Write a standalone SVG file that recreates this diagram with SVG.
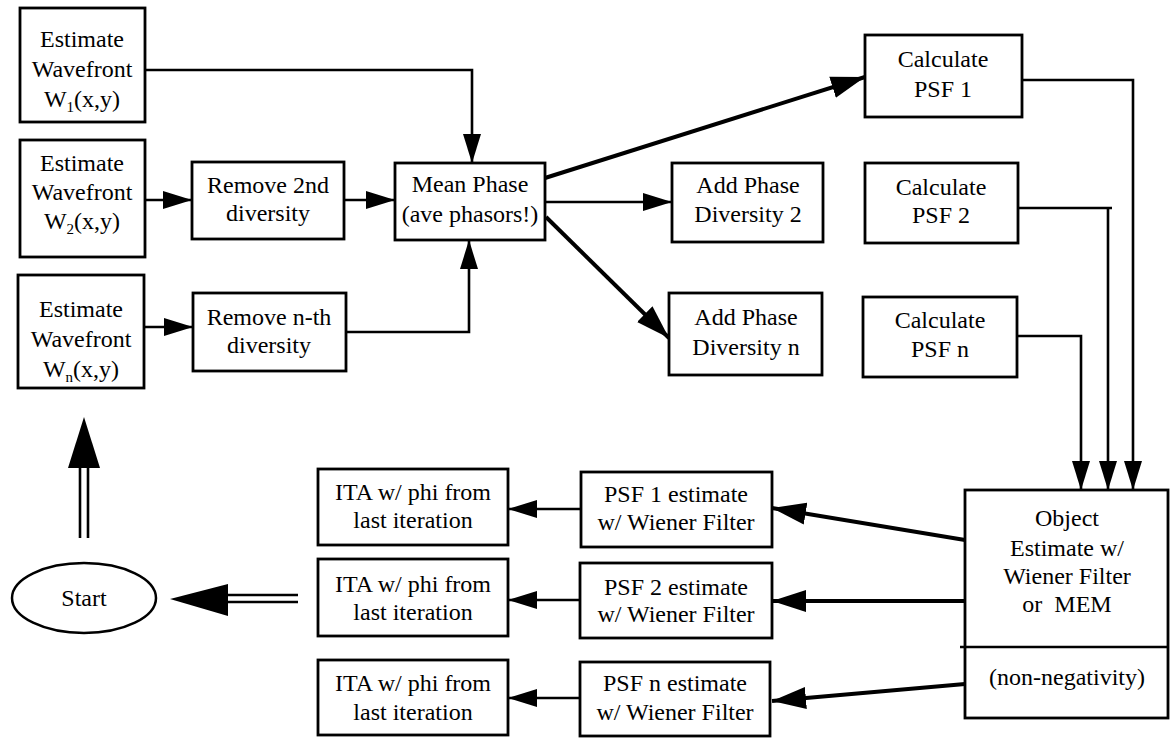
<svg xmlns="http://www.w3.org/2000/svg" width="1171" height="739" viewBox="0 0 1171 739">
  <style>
    .box { fill: #fff; stroke: #000; stroke-width: 2.8; }
    .lbl { font-family: "Liberation Serif", Tinos, "Nimbus Roman", "Nimbus Roman No9 L", "Times New Roman", Times, "Noto Serif", "DejaVu Serif", FreeSerif, serif; font-size: 24px; fill: #000; text-anchor: middle; }
    .sub { font-size: 15px; }
    .wire { fill: none; stroke: #000; stroke-width: 2.6; }
    .thick { fill: none; stroke: #000; stroke-width: 4; }
    .solid { fill: #000; stroke: none; }
  </style>
  <defs>
    <marker id="arr" markerUnits="userSpaceOnUse" markerWidth="29" markerHeight="20" refX="29" refY="10" orient="auto">
      <path d="M0,1 L29,10 L0,19 Z" fill="#000"/>
    </marker>
    <marker id="arrBig" markerUnits="userSpaceOnUse" markerWidth="34" markerHeight="24" refX="34" refY="12" orient="auto">
      <path d="M0,1 L34,12 L0,23 Z" fill="#000"/>
    </marker>
  </defs>
  <rect width="1171" height="739" fill="#fff"/>

  <!-- connectors -->
  <g id="connectors">
    <polyline class="wire" points="145,70 472,70 472,163" marker-end="url(#arr)"/>
    <line class="wire" x1="145" y1="200" x2="192" y2="200" marker-end="url(#arr)"/>
    <line class="wire" x1="344" y1="200" x2="395" y2="200" marker-end="url(#arr)"/>
    <line class="wire" x1="144" y1="327" x2="193" y2="327" marker-end="url(#arr)"/>
    <polyline class="wire" points="346,332 469,332 469,240" marker-end="url(#arr)"/>
    <line class="thick" x1="545" y1="178" x2="865" y2="77" marker-end="url(#arrBig)"/>
    <line class="wire" x1="545" y1="202" x2="672" y2="202" marker-end="url(#arr)"/>
    <line class="thick" x1="546" y1="217" x2="669" y2="338" marker-end="url(#arrBig)"/>
    <polyline class="wire" points="1022,80 1133,80 1133,490" marker-end="url(#arr)"/>
    <polyline class="wire" points="1018,208 1112,208"/>
    <polyline class="wire" points="1108,208 1108,490" marker-end="url(#arr)"/>
    <polyline class="wire" points="1017,336 1081,336 1081,490" marker-end="url(#arr)"/>
    <line class="thick" x1="965" y1="540" x2="772" y2="508" marker-end="url(#arrBig)"/>
    <line class="thick" x1="970" y1="601" x2="772" y2="601" marker-end="url(#arrBig)"/>
    <line class="thick" x1="965" y1="684" x2="772" y2="701" marker-end="url(#arrBig)"/>
    <line class="wire" x1="581" y1="509" x2="508" y2="509" marker-end="url(#arr)"/>
    <line class="wire" x1="580" y1="600" x2="508" y2="600" marker-end="url(#arr)"/>
    <line class="wire" x1="580" y1="698" x2="508" y2="698" marker-end="url(#arr)"/>
    <!-- hollow double arrow back to Start -->
    <line class="wire" x1="226" y1="595" x2="298" y2="595"/>
    <line class="wire" x1="226" y1="602" x2="298" y2="602"/>
    <path class="solid" d="M170,599 L228,584 L228,616 Z"/>
    <!-- hollow double arrow up to the wavefront estimates -->
    <line class="wire" x1="80" y1="466" x2="80" y2="538"/>
    <line class="wire" x1="88" y1="466" x2="88" y2="538"/>
    <path class="solid" d="M84,417 L100,468 L68,468 Z"/>
  </g>

  <g id="w1">
    <rect class="box" x="20" y="8" width="125" height="114"/>
    <text class="lbl" x="82" y="47">Estimate</text>
    <text class="lbl" x="82" y="77">Wavefront</text>
    <text class="lbl" x="82" y="107">W<tspan class="sub" dy="5">1</tspan><tspan dy="-5">(x,y)</tspan></text>
  </g>
  <g id="w2">
    <rect class="box" x="20" y="140" width="125" height="117"/>
    <text class="lbl" x="82" y="171">Estimate</text>
    <text class="lbl" x="82" y="200">Wavefront</text>
    <text class="lbl" x="82" y="229">W<tspan class="sub" dy="5">2</tspan><tspan dy="-5">(x,y)</tspan></text>
  </g>
  <g id="wn">
    <rect class="box" x="18" y="275" width="126" height="113"/>
    <text class="lbl" x="81" y="317">Estimate</text>
    <text class="lbl" x="81" y="347">Wavefront</text>
    <text class="lbl" x="81" y="377">W<tspan class="sub" dy="5">n</tspan><tspan dy="-5">(x,y)</tspan></text>
  </g>
  <g id="remove2">
    <rect class="box" x="192" y="162" width="152" height="77"/>
    <text class="lbl" x="268" y="193">Remove 2nd</text>
    <text class="lbl" x="268" y="221">diversity</text>
  </g>
  <g id="removen">
    <rect class="box" x="193" y="293" width="153" height="78"/>
    <text class="lbl" x="269" y="325">Remove n-th</text>
    <text class="lbl" x="269" y="353">diversity</text>
  </g>
  <g id="meanphase">
    <rect class="box" x="395" y="163" width="150" height="77"/>
    <text class="lbl" x="470" y="192">Mean Phase</text>
    <text class="lbl" x="470" y="222">(ave phasors!)</text>
  </g>
  <g id="adddiv2">
    <rect class="box" x="672" y="163" width="151" height="79"/>
    <text class="lbl" x="748" y="193">Add Phase</text>
    <text class="lbl" x="748" y="222">Diversity 2</text>
  </g>
  <g id="adddivn">
    <rect class="box" x="669" y="293" width="153" height="82"/>
    <text class="lbl" x="746" y="325">Add Phase</text>
    <text class="lbl" x="746" y="355">Diversity n</text>
  </g>
  <g id="psf1">
    <rect class="box" x="865" y="35" width="157" height="82"/>
    <text class="lbl" x="943" y="67">Calculate</text>
    <text class="lbl" x="943" y="97">PSF 1</text>
  </g>
  <g id="psf2">
    <rect class="box" x="865" y="163" width="153" height="80"/>
    <text class="lbl" x="941" y="195">Calculate</text>
    <text class="lbl" x="941" y="223">PSF 2</text>
  </g>
  <g id="psfn">
    <rect class="box" x="863" y="297" width="154" height="80"/>
    <text class="lbl" x="940" y="328">Calculate</text>
    <text class="lbl" x="940" y="357">PSF n</text>
  </g>
  <g id="object">
    <rect class="box" x="965" y="490" width="203" height="228"/>
    <line class="wire" x1="960" y1="647" x2="1168" y2="647"/>
    <text class="lbl" x="1067" y="526">Object</text>
    <text class="lbl" x="1067" y="556">Estimate w/</text>
    <text class="lbl" x="1067" y="584">Wiener Filter</text>
    <text class="lbl" x="1067" y="612" xml:space="preserve">or  MEM</text>
    <text class="lbl" x="1067" y="685">(non-negativity)</text>
  </g>
  <g id="psf1est">
    <rect class="box" x="581" y="472" width="191" height="75"/>
    <text class="lbl" x="676" y="502">PSF 1 estimate</text>
    <text class="lbl" x="676" y="530">w/ Wiener Filter</text>
  </g>
  <g id="psf2est">
    <rect class="box" x="580" y="563" width="192" height="75"/>
    <text class="lbl" x="676" y="595">PSF 2 estimate</text>
    <text class="lbl" x="676" y="622">w/ Wiener Filter</text>
  </g>
  <g id="psfnest">
    <rect class="box" x="580" y="662" width="190" height="74"/>
    <text class="lbl" x="675" y="691">PSF n estimate</text>
    <text class="lbl" x="675" y="720">w/ Wiener Filter</text>
  </g>
  <g id="ita1">
    <rect class="box" x="318" y="469" width="190" height="76"/>
    <text class="lbl" x="413" y="500">ITA w/ phi from</text>
    <text class="lbl" x="413" y="528">last iteration</text>
  </g>
  <g id="ita2">
    <rect class="box" x="318" y="559" width="190" height="77"/>
    <text class="lbl" x="413" y="592">ITA w/ phi from</text>
    <text class="lbl" x="413" y="620">last iteration</text>
  </g>
  <g id="itan">
    <rect class="box" x="318" y="660" width="190" height="75"/>
    <text class="lbl" x="413" y="691">ITA w/ phi from</text>
    <text class="lbl" x="413" y="720">last iteration</text>
  </g>
  <g id="start">
    <ellipse cx="84" cy="598" rx="72" ry="35" fill="#fff" stroke="#000" stroke-width="2.5"/>
    <text class="lbl" x="84" y="606">Start</text>
  </g>
</svg>
